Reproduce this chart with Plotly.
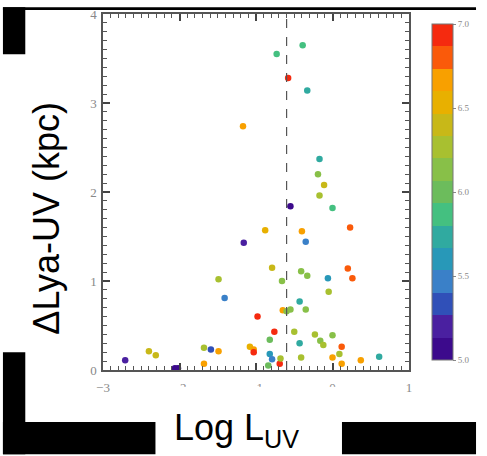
import plotly.graph_objects as go

# ---- data ----
log_luv = [-2.71, -2.40, -2.31, -2.06, -2.02, -1.68, -1.68, -1.59, -1.49, -1.49,
           -1.41, -1.17, -1.16, -1.08, -1.03, -1.03, -0.98, -0.88, -0.82, -0.82,
           -0.79, -0.79, -0.76, -0.73, -0.69, -0.68, -0.66, -0.65, -0.60, -0.55,
           -0.58, -0.55, -0.50, -0.43, -0.43, -0.41, -0.41, -0.40, -0.39, -0.35,
           -0.35, -0.33, -0.33, -0.23, -0.17, -0.19, -0.17, -0.11, -0.16, -0.12,
           -0.06, -0.05, 0.00, 0.00, 0.00, 0.09, 0.12, 0.12, 0.20, 0.23,
           0.26, 0.37, 0.61, -0.84]
d_lya_uv = [0.11, 0.21, 0.165, 0.02, 0.02, 0.07, 0.25, 0.23, 0.21, 1.02,
            0.81, 2.74, 1.43, 0.26, 0.23, 0.20, 0.60, 1.57, 0.34, 0.18,
            0.12, 1.15, 0.43, 3.55, 0.07, 0.13, 1.00, 0.67, 0.66, 0.68,
            3.28, 1.84, 0.43, 0.77, 0.30, 0.14, 1.11, 1.56, 3.65, 1.44,
            0.68, 1.06, 3.14, 0.40, 2.37, 2.20, 1.96, 2.08, 0.33, 0.28,
            1.03, 0.88, 1.82, 0.39, 0.14, 0.18, 0.26, 0.07, 1.14, 1.60,
            1.03, 0.11, 0.15, 0.05]
redshift = [5.2, 6.35, 6.35, 5.05, 5.1, 6.7, 6.3, 5.3, 6.6, 6.3,
            5.5, 6.7, 5.2, 6.55, 6.6, 6.9, 6.95, 6.5, 5.95, 5.6,
            5.5, 6.45, 6.9, 5.8, 6.95, 6.25, 6.1, 6.65, 6.1, 6.15,
            6.95, 5.0, 6.3, 5.7, 5.7, 6.25, 6.1, 6.7, 5.8, 5.45,
            6.15, 6.1, 5.7, 6.2, 5.75, 6.15, 6.3, 6.35, 6.15, 6.3,
            5.65, 6.3, 5.85, 6.15, 6.7, 6.25, 6.8, 6.65, 6.75, 6.8,
            6.75, 6.7, 5.75, 6.05]
LUV_CUT = -0.6

x_range = [-3, 1]
y_range = [0, 4]
cbar_ticks = [5.0, 5.5, 6.0, 6.5, 7.0]
cbar_ticklabels = ["5.0", "5.5", "6.0", "6.5", "7.0"]
band_colors = ["#3c0a8c", "#4a20a0", "#3050b8", "#3a80c8", "#2898b8",
               "#30aaa0", "#44c080", "#6cbc5c", "#88c048", "#a8c030",
               "#c8b818", "#e8b000", "#f8a000", "#fa5a0a", "#f52a0f"]

# discrete colorscale
n = len(band_colors)
cscale = []
for i, c in enumerate(band_colors):
    cscale.append([i / n, c])
    cscale.append([(i + 1) / n, c])

# ---- geometry helpers (pixels -> paper) ----
W, H = 487, 456
L, R, T, B = 103, 418, 7, 370
def px(xp):
    return (xp - L) / (R - L)
def py(yp):
    return (B - yp) / (B - T)

fig = go.Figure()
fig.add_trace(go.Scatter(
    x=log_luv, y=d_lya_uv, mode="markers",
    marker=dict(size=6.5, color=redshift, colorscale=cscale, cmin=5.0, cmax=7.0,
                line=dict(width=0),
                colorbar=dict(x=px(431), xanchor="left", thickness=21,
                              y=0.5, yanchor="middle", len=1.0, lenmode="fraction",
                              tickvals=cbar_ticks, ticktext=cbar_ticklabels,
                              ticks="outside", ticklen=3, tickcolor="#888",
                              tickfont=dict(family="Liberation Serif", size=9, color="#888"),
                              outlinewidth=1, outlinecolor="#777")),
    showlegend=False, hoverinfo="skip"))

axis_common = dict(showline=True, linecolor="#555", linewidth=1.5, mirror="allticks",
                   ticks="inside", ticklen=7, tickwidth=1.5, tickcolor="#444",
                   showgrid=False, zeroline=False,
                   tickmode="linear", tick0=0, dtick=1,
                   tickfont=dict(family="Liberation Serif", size=13, color="#888"),
                   minor=dict(ticks="inside", ticklen=4, tickwidth=1.2, tickcolor="#555",
                              tickmode="linear", tick0=0, dtick=0.1,
                              showgrid=False))

fig.update_xaxes(range=x_range, ticklabelstandoff=5, **axis_common)
fig.update_yaxes(range=y_range, ticklabelstandoff=2, **axis_common)

shapes = [
    dict(type="line", xref="x", yref="paper", x0=LUV_CUT, x1=LUV_CUT, y0=0, y1=1,
         line=dict(color="#555", width=1.2, dash="dash")),
    # white cover hiding lower half of inner x tick labels
    dict(type="rect", xref="paper", yref="paper", x0=px(125), x1=px(400),
         y0=py(423), y1=py(387), fillcolor="white", line=dict(width=0), layer="above"),
    # black patches
    dict(type="rect", xref="paper", yref="paper", x0=px(0), x1=px(W), y0=py(3), y1=py(0),
         fillcolor="black", line=dict(width=0), layer="above"),
    dict(type="rect", xref="paper", yref="paper", x0=px(0), x1=px(23), y0=py(48), y1=py(0),
         fillcolor="black", line=dict(width=0), layer="above"),
    dict(type="rect", xref="paper", yref="paper", x0=px(0), x1=px(23), y0=py(H), y1=py(352),
         fillcolor="black", line=dict(width=0), layer="above"),
    dict(type="rect", xref="paper", yref="paper", x0=px(0), x1=px(157), y0=py(H), y1=py(423),
         fillcolor="black", line=dict(width=0), layer="above"),
    dict(type="rect", xref="paper", yref="paper", x0=px(349), x1=px(W), y0=py(H), y1=py(423),
         fillcolor="black", line=dict(width=0), layer="above"),
]

annotations = [
    dict(text="ΔLya-UV (kpc)", textangle=-90, xref="paper", yref="paper",
         x=px(45), y=py(215), xanchor="center", yanchor="middle", showarrow=False,
         font=dict(family="Liberation Sans", size=36, color="black")),
    dict(text="Log L<sub>UV</sub>", xref="paper", yref="paper",
         x=px(240), y=py(431), xanchor="center", yanchor="middle", showarrow=False,
         font=dict(family="Liberation Sans", size=36, color="black")),
]

fig.update_layout(width=W, height=H, margin=dict(l=L, r=W - R, t=T, b=H - B),
                  paper_bgcolor="white", plot_bgcolor="white",
                  shapes=shapes, annotations=annotations)

fig.write_html("out.html")
